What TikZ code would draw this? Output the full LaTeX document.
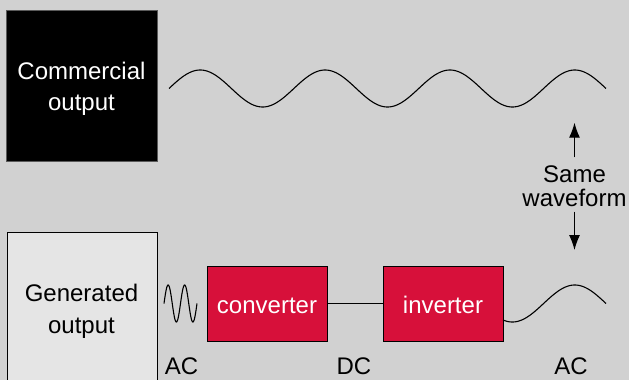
\documentclass[tikz,border=0pt]{standalone}
\usepackage{fontspec}
\setmainfont{Liberation Sans}
\usetikzlibrary{arrows.meta}
\definecolor{bg}{HTML}{D1D1D1}
\definecolor{lightbox}{HTML}{E5E5E5}
\definecolor{redbox}{HTML}{D7103A}
\definecolor{edgegray}{HTML}{5A5A5A}
\tikzset{
  txt/.style={font=\fontsize{24}{24}\selectfont, inner sep=0pt},
  blockbox/.style={draw=black, line width=0.9pt, fill=redbox, minimum width=120pt, minimum height=75pt, inner sep=0pt},
  wave/.style={line width=1.1pt, line join=round, black},
  arr/.style={line width=1.1pt, -{Latex[length=15pt,width=11pt]}},
  wire/.style={line width=0.9pt},
}
\begin{document}
\begin{tikzpicture}[x=1pt, y=-1pt]
\useasboundingbox[fill=bg] (0,0) rectangle (629,380);
% boxes
\node[fill=black, draw=edgegray, line width=0.8pt, minimum width=151pt, minimum height=151pt, inner sep=0pt] (com) at (81.5,85.5) {};
\node[txt, text=white, align=center, font=\fontsize{24}{31}\selectfont] (comtxt) at (81.5,88.3) {Commercial\\output};
\node[fill=lightbox, draw=black, line width=0.9pt, minimum width=150pt, minimum height=170pt, inner sep=0pt, anchor=north west] (gen) at (7,232) {};
\node[txt, align=center, font=\fontsize{24}{32}\selectfont] (gentxt) at (81.5,310.8) {Generated\\output};
\node[blockbox] (conv) at (267,303.5) {};
\node[txt, text=white, anchor=base] (convtxt) at (267,313.3) {converter};
\node[blockbox] (inv) at (443,303.5) {};
\node[txt, text=white, anchor=base] (invtxt) at (443,313.3) {inverter};
\draw[wire] (conv.east) -- (inv.west);
% waves
\draw[wave] plot[domain=169:606, samples=300] (\x, {88.5 - 18.5*sin((\x-169)/124.86*360)});
\draw[wave] plot[domain=164:197, samples=120] (\x, {303.5 - 18.5*sin((\x-164)/16.5*360)});
\draw[wave] plot[domain=503:606, samples=120] (\x, {303.5 - 18.5*sin((\x-169)/124.86*360)});
% labels
\node[txt, align=center] (same) at (574.5,186) {Same\\waveform};
\coordinate (upTip) at (574.5,122.7);
\coordinate (downTip) at (574.5,250);
\draw[arr, shorten <=8pt] (same.north) -- (upTip);
\draw[arr, shorten <=5pt] (same.south) -- (downTip);
\node[txt, anchor=base] (ac1) at (181.5,374) {AC};
\node[txt, anchor=base] (dc) at (354,374) {DC};
\node[txt, anchor=base] (ac2) at (571,374) {AC};
\end{tikzpicture}
\end{document}
